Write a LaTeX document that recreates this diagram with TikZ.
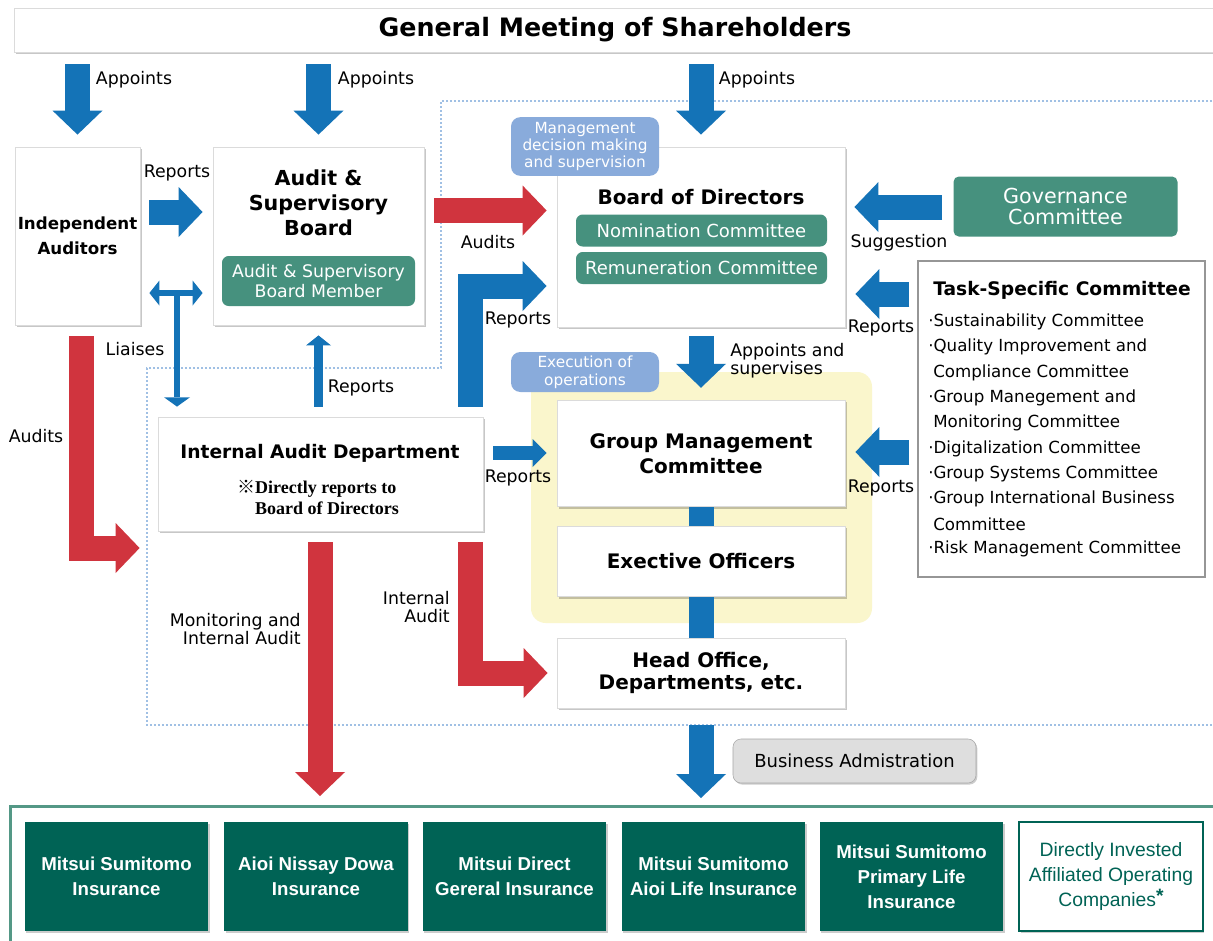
\documentclass[tikz,border=0pt]{standalone}
\usepackage{fontspec}
\setmainfont{DejaVu Sans}
\newfontfamily\libsans{Liberation Sans}
\newfontfamily\libserif{Liberation Serif}
\newfontfamily\cjkjp{Noto Sans CJK JP}
\usetikzlibrary{arrows.meta,shadows}
\newcommand\myfs[2]{\fontsize{#1}{#2}\selectfont}
\definecolor{cblue}{RGB}{20,115,183}
\definecolor{cred}{RGB}{208,52,62}
\definecolor{cteal}{RGB}{70,145,126}
\definecolor{cdark}{RGB}{0,99,85}
\definecolor{ctag}{RGB}{137,171,219}
\definecolor{cyel}{RGB}{250,246,204}
\definecolor{cdot}{RGB}{160,192,228}
\definecolor{cframe}{RGB}{84,152,134}
\definecolor{cgrayb}{RGB}{150,150,150}
\begin{document}
\begin{tikzpicture}[x=0.75pt,y=-0.75pt,
  box/.style={draw=black!14, line width=0.6pt, fill=white, inner sep=0pt,
    drop shadow={shadow xshift=1.2pt, shadow yshift=-1.5pt, opacity=0.22, fill=black}},
  ttl/.style={font=\bfseries\myfs{15}{18.75}, align=center, inner sep=0pt},
  pill/.style={fill=cteal, text=white, rounded corners=5pt, inner sep=0pt, align=center},
  tagpill/.style={fill=ctag, text=white, rounded corners=7pt, inner sep=0pt, align=center},
  lbl/.style={font=\myfs{13}{13.5}, inner sep=0pt, align=center},
  listitem/.style={font=\myfs{12.5}{15}, inner sep=0pt, anchor=west},
  corp/.style={fill=cdark, text=white, minimum width=137.5pt, minimum height=81.75pt, inner sep=0pt, align=center, font=\libsans\bfseries\myfs{14}{18.75}, drop shadow={shadow xshift=1pt, shadow yshift=-1.2pt, opacity=0.2, fill=black}},
  bigb/.style={draw=cblue, line width=18.75pt, -{Triangle[width=37.5pt,length=18pt,line width=0pt]}},
  bigr/.style={draw=cred, line width=18.75pt, -{Triangle[width=37.5pt,length=18pt,line width=0pt]}},
  linkbar/.style={draw=cblue, line width=18.75pt},
]
\useasboundingbox (0,0) rectangle (1213,940);
\fill[white] (0,0) rectangle (1213,940);

% background regions
\draw[cdot, line width=1.6pt, dash pattern=on 1.6pt off 1.4pt] (1216,101) -- (441,101) -- (441,368) -- (147,368) -- (147,725) -- (1216,725);
\fill[cyel, rounded corners=11pt] (531,372) rectangle (872,623);

% top
\node[box, minimum width=901.5pt, minimum height=33pt, font=\bfseries\myfs{19}{22}] (gm) at (615,30) {General Meeting of Shareholders};

% left boxes
\node[box, minimum width=93.75pt, minimum height=133.5pt, align=center, font=\bfseries\myfs{12.5}{18.75}] (ia) at (77.5,236) {Independent\\Auditors};
\node[box, minimum width=158.25pt, minimum height=133.5pt] (asb) at (318.5,236) {};
\node[ttl, font=\bfseries\myfs{15.5}{18.75}] (asbt) at (318.5,203) {Audit \&\\Supervisory\\Board};
\node[pill, minimum width=144.75pt, minimum height=37.5pt, font=\myfs{13}{15}] (asbm) at (318.5,281) {Audit \& Supervisory\\Board Member};

% board of directors
\node[box, minimum width=216pt, minimum height=135pt] (bod) at (701,237) {};
\node[ttl] (bodt) at (701,197) {Board of Directors};
\node[pill, minimum width=188.25pt, minimum height=24pt, font=\myfs{13.5}{15}] (nom) at (701.5,230.5) {Nomination Committee};
\node[pill, minimum width=188.25pt, minimum height=24pt, font=\myfs{13.5}{15}] (rem) at (701.5,268) {Remuneration Committee};

% right side
\node[pill, rounded corners=4pt, minimum width=168pt, minimum height=45pt, font=\myfs{15.5}{15.75}] (gov) at (1065.5,206.5) {Governance\\Committee};
\node[draw=cgrayb, line width=0.8pt, fill=white, minimum width=215.25pt, minimum height=237pt, inner sep=0pt] (task) at (1061.5,419) {};
\node[ttl, font=\bfseries\myfs{14}{16}] (taskt) at (1062,290) {Task-Specific Committee};
\foreach \xx/\yy/\tx [count=\i] in {928/322/{·Sustainability Committee},928/347/{·Quality Improvement and},933/373/{Compliance Committee},928/398/{·Group Manegement and},933/423/{Monitoring Committee},928/449/{·Digitalization Committee},928/474/{·Group Systems Committee},928/499/{·Group International Business},933/524/{Committee},928/549/{·Risk Management Committee}}
  \node[listitem] (ti\i) at (\xx,\yy) {\tx};

% execution
\node[box, minimum width=216pt, minimum height=80pt, font=\bfseries\myfs{15}{18.75}, align=center] (gmc) at (701,453.5) {Group Management\\Committee};
\node[box, minimum width=216pt, minimum height=53pt, font=\bfseries\myfs{15}{18.75}, align=center] (eo) at (701,561.5) {Exective Officers};
\node[box, minimum width=216pt, minimum height=52.5pt, font=\bfseries\myfs{15}{16.5}, align=center] (ho) at (701,673) {Head Office,\\Departments, etc.};

% internal audit
\node[box, minimum width=243.75pt, minimum height=85.5pt] (iad) at (320.5,474) {};
\node[ttl, font=\bfseries\myfs{14}{16}] (iadt) at (320,453) {Internal Audit Department};
\node[inner sep=0pt, align=left, font=\libserif\bfseries\myfs{13.5}{15.75}] (iadn) at (318,497.5) {{\cjkjp ※}Directly reports to\\\phantom{{\cjkjp ※}}Board of Directors};

% business administration
\node[draw=black!35, fill=black!13, rounded corners=6pt, minimum width=182.25pt, minimum height=33pt, inner sep=0pt, font=\myfs{13.5}{15}, drop shadow={shadow xshift=1pt, shadow yshift=-1.2pt, opacity=0.2, fill=black}] (ba) at (854.5,761) {Business Admistration};

% tags
\node[tagpill, minimum width=111pt, minimum height=44pt, font=\myfs{11.5}{12.4}] (mgmt) at (585,146.5) {Management\\decision making\\and supervision};
\node[tagpill, minimum width=111pt, minimum height=30pt, font=\myfs{11.5}{13.5}] (exl) at (585,372) {Execution of\\operations};

% bottom frame and companies
\draw[cframe, line width=2.25pt] (1216,806) -- (10,806) -- (10,945);
\node[corp] (c1) at (116.5,876.5) {Mitsui Sumitomo\\Insurance};
\node[corp] (c2) at (316,876.5) {Aioi Nissay Dowa\\Insurance};
\node[corp] (c3) at (514.5,876.5) {Mitsui Direct\\Gereral Insurance};
\node[corp] (c4) at (713.5,876.5) {Mitsui Sumitomo\\Aioi Life Insurance};
\node[corp] (c5) at (911.5,876.5) {Mitsui Sumitomo\\Primary Life\\Insurance};
\node[corp, fill=white, draw=cdark, line width=1.5pt, text=cdark, font=\libsans\myfs{14.5}{18.75}] (c6) at (1111,876.5) {Directly Invested\\Affiliated Operating\\Companies\raisebox{3pt}{\bfseries *}};

% arrows
\draw[bigb, shorten <=9pt, shorten >=9pt] (gm.south -| ia.north) -- (ia.north);
\draw[bigb, shorten <=9pt, shorten >=9pt] (gm.south -| asb.north) -- (asb.north);
\draw[bigb, shorten <=9pt, shorten >=9pt] (gm.south -| bod.north) -- (bod.north);
\draw[bigb, shorten <=6.75pt, shorten >=7.5pt] (ia.east |- 0,212) -- (asb.west |- 0,212);
\draw[bigr, shorten <=7.5pt, shorten >=7.5pt] (asb.east |- 0,210.5) -- (bod.west |- 0,210.5);
\coordinate (lj) at (177,293);
\draw[draw=cblue, line width=5pt, {Triangle[width=18.75pt,length=7.5pt,line width=0pt]}-{Triangle[width=18.75pt,length=7.5pt,line width=0pt]}, shorten <=6.75pt, shorten >=7.5pt] (ia.east |- lj) -- (asb.west |- lj);
\draw[draw=cblue, line width=4.5pt, -{Triangle[width=19.5pt,length=7pt,line width=0pt]}, shorten >=7.5pt] (lj) -- (lj |- iad.north);
\draw[draw=cblue, line width=6.75pt, -{Triangle[width=18.75pt,length=7.5pt,line width=0pt]}, shorten <=7.5pt, shorten >=7.5pt] (iad.north -| asb.south) -- (asb.south);
\draw[bigb, shorten <=7.5pt, shorten >=7.5pt] (470,0 |- iad.north) |- (bod.west |- 0,286);
\draw[bigr, shorten <=8.25pt, shorten >=13.5pt] (81.5,0 |- ia.south) |- (iad.west |- 0,548);
\coordinate (monend) at (320,796);
\draw[bigr, shorten <=8.25pt] (iad.south -| monend) -- (monend);
\draw[bigr, shorten <=8.25pt, shorten >=6.75pt] (470,0 |- iad.south) |- (ho.west);
\draw[draw=cblue, line width=10.5pt, -{Triangle[width=21pt,length=10.5pt,line width=0pt]}, shorten <=7.5pt, shorten >=7.5pt] (iad.east |- 0,453) -- (gmc.west |- 0,453);
\draw[bigb, shorten <=6.75pt, shorten >=9pt] (bod.south) -- (gmc.north);
\draw[linkbar] (gmc.south) -- (eo.north);
\draw[linkbar] (eo.south) -- (ho.north);
\coordinate (haend) at (701,798);
\draw[bigb, shorten <=12.75pt] (ho.south) -- (haend);
\draw[bigb, shorten <=8.25pt, shorten >=6.75pt] (gov.west |- 0,207) -- (bod.east |- 0,207);
\draw[bigb, shorten <=6pt, shorten >=7.5pt] (task.west |- 0,294) -- (bod.east |- 0,294);
\draw[bigb, shorten <=6pt, shorten >=7.5pt] (task.west |- 0,452) -- (gmc.east |- 0,452);

% labels
\node[lbl] (l1) at (134,80) {Appoints};
\node[lbl] (l2) at (376,80) {Appoints};
\node[lbl] (l3) at (757,80) {Appoints};
\node[lbl] (l4) at (177,173) {Reports};
\node[lbl] (l5) at (488,242) {Audits};
\node[lbl] (l6) at (135,349) {Liaises};
\node[lbl] (l7) at (361,388) {Reports};
\node[lbl] (l8) at (518,320) {Reports};
\node[lbl] (l9) at (36,436) {Audits};
\node[lbl, align=right, anchor=east] (l10) at (301,629) {Monitoring and\\Internal Audit};
\node[lbl, align=right, anchor=east] (l11) at (450,607) {Internal\\Audit};
\node[lbl] (l12) at (518,478) {Reports};
\node[lbl, align=left, anchor=west] (l13) at (730,361) {Appoints and\\supervises};
\node[lbl] (l14) at (899,243) {Suggestion};
\node[lbl] (l15) at (881,328) {Reports};
\node[lbl] (l16) at (881,488) {Reports};
\end{tikzpicture}
\end{document}
